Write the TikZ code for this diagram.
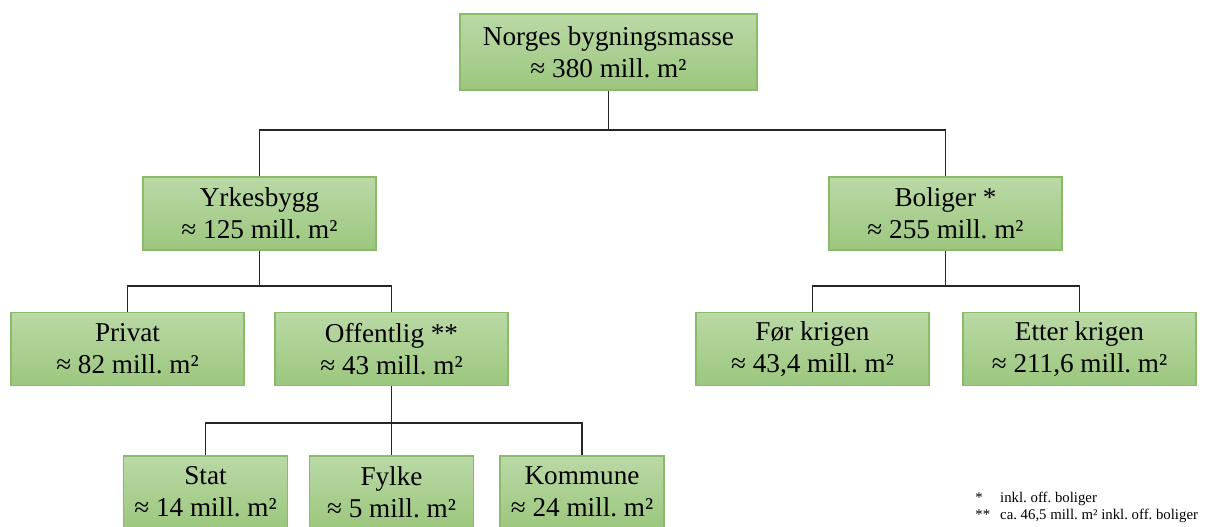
\documentclass[tikz,border=0pt]{standalone}
\usepackage{fontspec}
\setmainfont{Liberation Serif}
\usepackage{tikz}
\frenchspacing
\definecolor{boxtop}{HTML}{BAD9A6}
\definecolor{boxbot}{HTML}{9CC77E}
\definecolor{boxline}{HTML}{8BBA6B}

\begin{document}
\begin{tikzpicture}[x=0.5pt,y=-0.5pt,
    area/.style={draw=boxline, line width=0.6pt, top color=boxtop, bottom color=boxbot,
      align=center, minimum width=116.5pt, minimum height=36.5pt, inner sep=2pt,
      font=\fontsize{13.6}{16}\selectfont},
    small/.style={minimum width=82pt, minimum height=36pt},
    link/.style={draw=black!85, line width=0.6pt}]
    \useasboundingbox (0,0) rectangle (1205,526);
    \clip (0,0) rectangle (1205,526);

    % top
    \node [area, minimum width=148.5pt, minimum height=38pt] (total) at (608.5,52) {Norges bygningsmasse\\≈ 380 mill. m²};

    % second level
    \node [area] (yrkes) at (259.5,213.5) {Yrkesbygg\\≈ 125 mill. m²};
    \node [area] (bolig) at (945.5,213.5) {Boliger *\\≈ 255 mill. m²};

    % third level
    \node [area] (privat) at (127.5,349) {Privat\\≈ 82 mill. m²};
    \node [area] (offentlig) at (391.5,349) {Offentlig **\\≈ 43 mill. m²};
    \node [area] (for) at (812.5,349) {Før krigen\\≈ 43,4 mill. m²};
    \node [area] (etter) at (1079.5,349) {Etter krigen\\≈ 211,6 mill. m²};

    % bottom
    \node [area, small] (stat) at (205.5,492) {Stat\\≈ 14 mill. m²};
    \node [area, small] (fylke) at (391.5,492) {Fylke\\≈ 5 mill. m²};
    \node [area, small] (kommune) at (582,492) {Kommune\\≈ 24 mill. m²};

    % connectors
    \coordinate (j1) at (608.5,130);
    \coordinate (j2) at (259.5,286);
    \coordinate (j3) at (945.5,286);
    \coordinate (j4) at (391.5,423);

    \draw [link] (total.south) -- (j1);
    \draw [link] (yrkes.north) |- (j1) -| (bolig.north);
    \draw [link] (yrkes.south) -- (j2);
    \draw [link] (privat.north) |- (j2) -| (offentlig.north);
    \draw [link] (bolig.south) -- (j3);
    \draw [link] (for.north) |- (j3) -| (etter.north);
    \draw [link] (offentlig.south) -- (j4) -- (fylke.north);
    \draw [link] (stat.north) |- (j4) -| (kommune.north);

    % notes
    \node [anchor=north west, inner sep=0pt, font=\fontsize{7.4}{8.5}\selectfont] (notes) at (975,490)
      {\begin{tabular}{@{}l@{\hspace{5pt}}l@{}}
        * & inkl. off. boliger\\
        {**} & ca. 46,5 mill. m² inkl. off. boliger
      \end{tabular}};
\end{tikzpicture}
\end{document}
